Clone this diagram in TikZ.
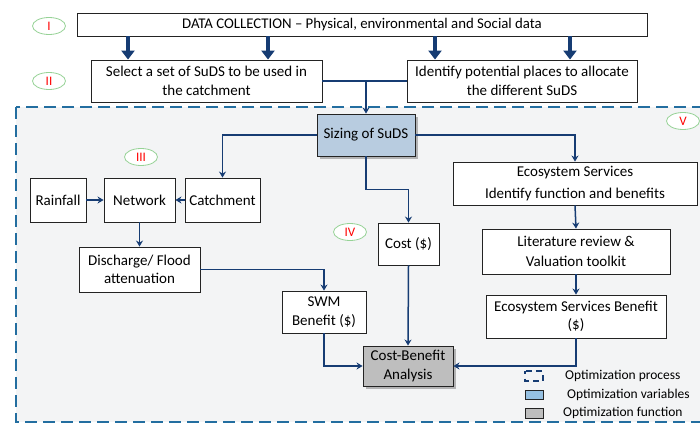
\documentclass[tikz,border=0pt]{standalone}
\usepackage{fontspec}
\setmainfont{Carlito}
\usetikzlibrary{arrows.meta,shapes.geometric,shadows}
\definecolor{navy}{RGB}{22,60,115}
\definecolor{framec}{RGB}{35,110,160}
\definecolor{framefill}{RGB}{243,244,245}
\definecolor{sizefill}{RGB}{184,204,224}
\definecolor{cbafill}{RGB}{190,190,190}
\definecolor{legblue}{RGB}{150,192,225}
\definecolor{ellgreen}{RGB}{150,210,150}
\definecolor{boxline}{RGB}{35,35,35}
\tikzset{
  box/.style={draw=boxline,line width=0.9pt,fill=white,align=center,inner sep=1pt,
    font=\fontsize{15}{18.5}\selectfont},
  arr/.style={draw=navy,line width=1.5pt,-{Stealth[length=6pt,width=7pt]}},
  plainline/.style={draw=navy,line width=1.5pt},
  fat/.style={draw=navy,line width=4.5pt,-{Triangle[length=9pt,width=13pt]}},
  tag/.style={ellipse,draw=ellgreen,line width=0.8pt,fill=white,minimum width=33pt,
    minimum height=17pt,inner sep=0pt,text=red,font=\fontsize{13}{13}\selectfont},
  shad/.style={drop shadow={shadow xshift=2.5pt,shadow yshift=-2.5pt,opacity=0.45,fill=black!60}},
  smallshad/.style={drop shadow={shadow xshift=1.2pt,shadow yshift=-1.2pt,opacity=0.35,fill=black!60}},
  legtext/.style={anchor=west,inner sep=0pt,font=\fontsize{13.5}{13.5}\selectfont}
}
\begin{document}
\begin{tikzpicture}[x=1pt,y=-1pt]
\useasboundingbox (0,0) rectangle (700,423);
\clip (0,0) rectangle (700,423);
\fill[white] (0,0) rectangle (700,423);
% frame
\draw[framec,fill=framefill,line width=2.6pt,dash pattern=on 12pt off 6pt] (16,107) rectangle (720,422);
% top nodes
\node[box,font=\fontsize{14.8}{16}\selectfont,minimum width=570pt,minimum height=23pt] (top) at (362,24.5) {DATA COLLECTION -- Physical, environmental and Social data};
\node[box,minimum width=231pt,minimum height=42pt] (sel) at (206.5,81) {Select a set of SuDS to be used in\\the catchment};
\node[box,minimum width=230pt,minimum height=42pt] (ident) at (522,81) {Identify potential places to allocate\\the different SuDS};
\node[tag] (t1) at (49,26) {I};
\node[tag] (t2) at (49,81) {II};
% main nodes
\node[box,fill=sizefill,shad,minimum width=98pt,minimum height=42pt] (sizing) at (366,135) {Sizing of SuDS};
\node[box,minimum width=56pt,minimum height=44pt] (rain) at (58,200) {Rainfall};
\node[box,minimum width=71pt,minimum height=44pt] (net) at (139.5,200) {Network};
\node[box,minimum width=75pt,minimum height=44pt] (catch) at (222.5,200) {Catchment};
\node[box,minimum width=121pt,minimum height=45pt] (disch) at (139.5,269.5) {Discharge/ Flood\\attenuation};
\node[box,minimum width=84pt,minimum height=42pt] (swm) at (324,312) {SWM\\Benefit (\$)};
\node[box,minimum width=61pt,minimum height=42pt] (cost) at (408.5,244) {Cost (\$)};
\node[box,fill=cbafill,shad,minimum width=90pt,minimum height=40pt] (cba) at (408,366) {Cost-Benefit\\Analysis};
\node[box,minimum width=244pt,minimum height=43pt] (eco) at (575,183.5) {Ecosystem Services\\[4pt]Identify function and benefits};
\node[box,minimum width=188pt,minimum height=45pt] (lit) at (576,251.5) {Literature review \&\\[2pt]Valuation toolkit};
\node[box,minimum width=180pt,minimum height=43pt] (esb) at (576,316.5) {Ecosystem Services Benefit\\(\$)};
\node[tag] (t3) at (141,157) {III};
\node[tag] (t4) at (350,232) {IV};
\node[tag] (t5) at (683,121) {V};
% fat arrows
\draw[fat] (top.south -| 128,0) -- (sel.north -| 128,0);
\draw[fat] (top.south -| 268,0) -- (sel.north -| 268,0);
\draw[fat] (top.south -| 435,0) -- (ident.north -| 435,0);
\draw[fat] (top.south -| 570,0) -- (ident.north -| 570,0);
% connectors
\coordinate (mid) at (366,81);
\draw[plainline] (sel.east) -- (ident.west);
\draw[arr] (mid) -- (sizing.north);
\draw[arr] (sizing.west) -| (catch.north);
\draw[arr] (rain.east) -- (net.west);
\draw[arr] (catch.west) -- (net.east);
\draw[arr] (net.south) -- (disch.north);
\draw[arr] (disch.east) -| (swm.north);
\draw[arr] (sizing.south) -- ++(0,33) -| (cost.north);
\draw[arr] (sizing.east) -| (eco.north);
\draw[arr] (eco.south) -- (lit.north);
\draw[arr] (lit.south) -- (esb.north);
\draw[arr] (cost.south) -- (cba.north);
\draw[arr] (swm.south) |- (cba.west);
\draw[arr] (esb.south) |- (cba.east);
% legend
\draw[navy,line width=1.8pt,dash pattern=on 6pt off 4.5pt,dash phase=3pt] (525,371) rectangle (543,381);
\node[legtext] (l1) at (565,375.5) {Optimization process};
\draw[boxline,line width=0.7pt,fill=legblue,smallshad] (525,390) rectangle (543,399);
\node[legtext] (l2) at (567,394.5) {Optimization variables};
\draw[boxline,line width=0.7pt,fill=cbafill,smallshad] (525,408) rectangle (543,418);
\node[legtext] (l3) at (563,413) {Optimization function};
\end{tikzpicture}
\end{document}
